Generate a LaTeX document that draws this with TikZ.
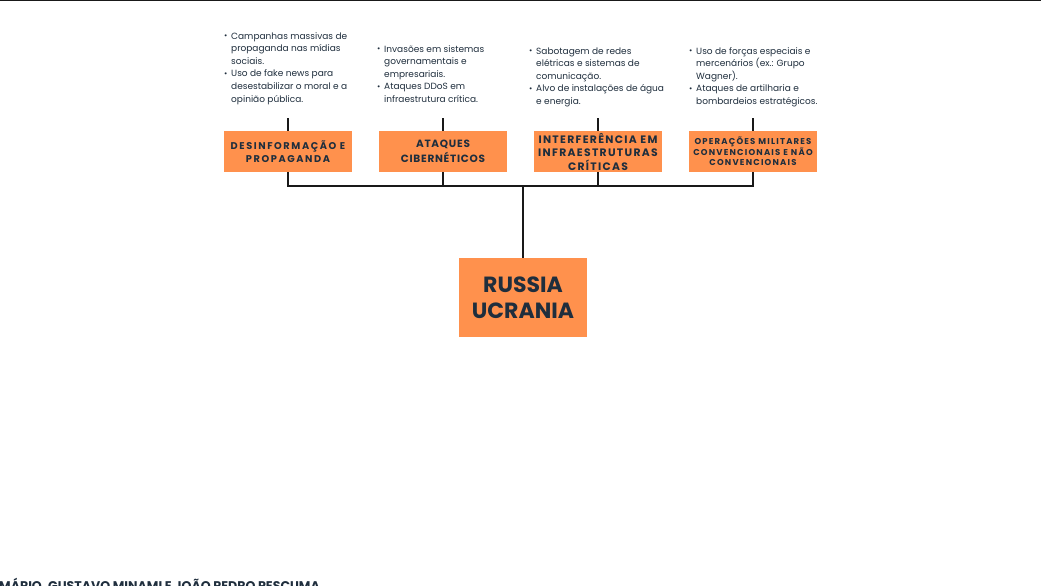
\documentclass[tikz,border=0pt]{standalone}
\usepackage{fontspec}
\setmainfont{Poppins}
\newfontfamily\headfont{Poppins}
\usetikzlibrary{positioning}
\definecolor{c1}{HTML}{FF914D}
\definecolor{ink}{HTML}{1F2E3D}
\newcommand{\bul}{\makebox[7pt][l]{\raisebox{0.3pt}{\footnotesize\textbullet}}}

\begin{document}
\begin{tikzpicture}[
  x=1pt, y=-1pt,
  font=\fontsize{9}{12.6}\selectfont,
  box/.style={fill=c1, minimum width=128pt, minimum height=41pt, inner sep=0pt,
              align=center, text=ink},
  list/.style={anchor=north west, inner sep=0pt, text=ink},
  link/.style={line width=2.4pt, black!90},
]
\useasboundingbox (0,0) rectangle (1041,586);
\draw[line width=2.5pt, black!90] (0,0) -- (1041,0);

% Center box
\node[box, minimum height=79pt, font=\fontsize{22}{26}\selectfont\bfseries] (rootbox) at (523,297.5) {RUSSIA\\UCRANIA};

% Category boxes
\node[box, font=\fontsize{9.8}{13}\selectfont\headfont\addfontfeature{LetterSpace=16}\bfseries] (desinfo) at (288,151.5) {DESINFORMAÇÃO E\\PROPAGANDA};
\node[box, font=\fontsize{10.5}{15}\selectfont\headfont\addfontfeature{LetterSpace=7}\bfseries] (ciber) at (443,151.5) {ATAQUES\\CIBERNÉTICOS};
\node[box, font=\fontsize{10.8}{13.5}\selectfont\headfont\addfontfeature{LetterSpace=12}\bfseries] (infra) at (598,151.5) {INTERFERÊNCIA EM\\INFRAESTRUTURAS\\CRÍTICAS};
\node[box, font=\fontsize{8.5}{10.5}\selectfont\headfont\addfontfeature{LetterSpace=14}\bfseries] (militar) at (753,151.5) {OPERAÇÕES MILITARES\\CONVENCIONAIS E NÃO\\CONVENCIONAIS};

% Bullet lists
\node[list] (lstdesinfo) at (224,30) {\begin{tabular}{@{}l@{}l@{}}
  \bul & Campanhas massivas de\\ & propaganda nas mídias\\ & sociais.\\
  \bul & Uso de fake news para\\ & desestabilizar o moral e a\\ & opinião pública.
\end{tabular}};
\node[list] (lstciber) at (377,43) {\begin{tabular}{@{}l@{}l@{}}
  \bul & Invasões em sistemas\\ & governamentais e\\ & empresariais.\\
  \bul & Ataques DDoS em\\ & infraestrutura crítica.
\end{tabular}};
\node[list] (lstinfra) at (529,45) {\begin{tabular}{@{}l@{}l@{}}
  \bul & Sabotagem de redes\\ & elétricas e sistemas de\\ & comunicação.\\
  \bul & Alvo de instalações de água\\ & e energia.
\end{tabular}};
\node[list] (lstmilitar) at (689,45) {\begin{tabular}{@{}l@{}l@{}}
  \bul & Uso de forças especiais e\\ & mercenários (ex.: Grupo\\ & Wagner).\\
  \bul & Ataques de artilharia e\\ & bombardeios estratégicos.
\end{tabular}};

% Connectors
\coordinate (bus) at (523,186);
\draw[link] (desinfo.south) |- (bus) -| (militar.south);
\foreach \n in {ciber, infra}
  \draw[link] (\n.south) -- (\n.south |- bus);
\draw[link] (rootbox.north) -- (bus);
\foreach \n in {desinfo, ciber, infra, militar}
  \draw[link] (\n.north) -- ++(0,-13);

% Footer
\node[anchor=base west, inner sep=0pt, text=ink, font=\fontsize{12.6}{13}\selectfont\bfseries] (autores) at (-1,590) {MÁRIO, GUSTAVO MINAMI E JOÃO PEDRO PESCUMA};
\end{tikzpicture}
\end{document}
